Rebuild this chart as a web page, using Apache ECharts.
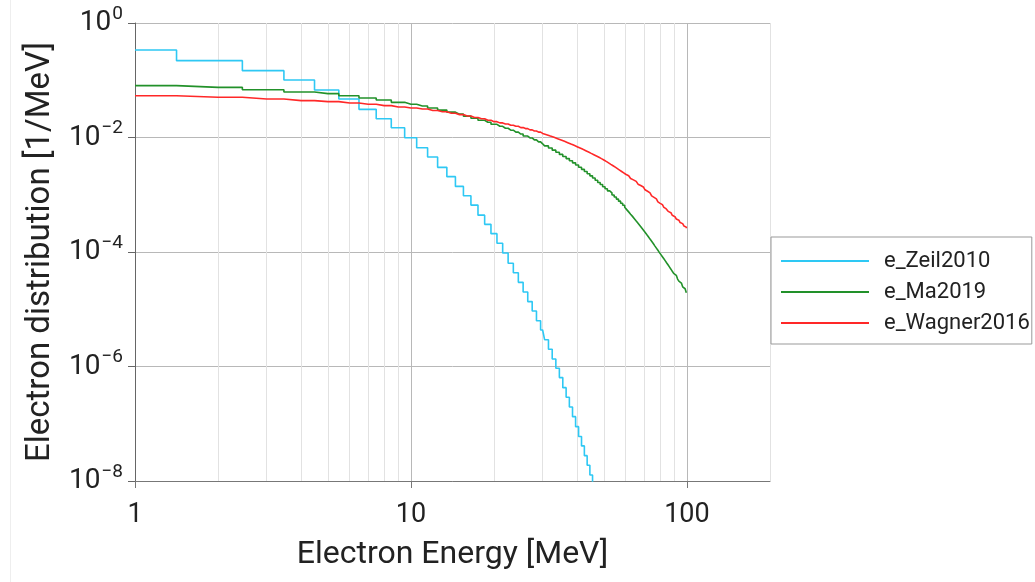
<!DOCTYPE html>
<html><head><meta charset="utf-8">
<script src="https://cdn.jsdelivr.net/npm/echarts@6/dist/echarts.min.js"></script>
<style>html,body{margin:0;padding:0;background:#fff}#c{width:1035px;height:582px}</style>
</head><body><div id="c"></div>
<script>
const energyMeV = [1,2,3,4,5,6,7,8,9,10,11,12,13,14,15,16,17,18,19,20,21,22,23,24,25,26,27,28,29,30,31,32,33,34,35,36,37,38,39,40,41,42,43,44,45,46,47,48,49,50,51,52,53,54,55,56,57,58,59,60,61,62,63,64,65,66,67,68,69,70,71,72,73,74,75,76,77,78,79,80,81,82,83,84,85,86,87,88,89,90,91,92,93,94,95,96,97,98,99,100];
const zeil2010 = [0.337,0.22,0.147,0.101,0.0676,0.047,0.031,0.0213,0.0148,0.0099,0.00664,0.00456,0.00301,0.00207,0.0014,9.6e-4,6.6e-4,4.4e-4,3.04e-4,2.09e-4,1.42e-4,9.6e-5,6.35e-5,4.35e-5,2.95e-5,2.0e-5,1.36e-5,9.3e-6,6.3e-6,4.34e-6,2.94e-6,2.0e-6,1.35e-6,9.3e-7,6.4e-7,4.27e-7,2.9e-7,1.96e-7,1.33e-7,8.9e-8,6.0e-8,4.1e-8,2.77e-8,1.88e-8,1.27e-8,8.6e-9];
const ma2019 = [0.0804,0.0752,0.0684,0.0624,0.0583,0.0537,0.0490,0.0452,0.0411,0.0380,0.0355,0.0327,0.0301,0.0277,0.0256,0.0236,0.0217,0.0200,0.0185,0.0170,0.0157,0.0145,0.0134,0.0124,0.0115,0.0106,0.00982,0.00908,0.00839,0.00776,0.00713,0.00655,0.00601,0.00552,0.00507,0.00466,0.00428,0.00393,0.00361,0.00331,0.00303,0.00278,0.00255,0.00233,0.00214,0.00196,0.00179,0.00164,0.00151,0.00138,0.00127,0.00117,0.00108,9.91e-4,9.12e-4,8.39e-4,7.73e-4,7.11e-4,6.55e-4,6.03e-4,5.50e-4,5.02e-4,4.58e-4,4.19e-4,3.82e-4,3.48e-4,3.18e-4,2.90e-4,2.65e-4,2.42e-4,2.21e-4,2.02e-4,1.85e-4,1.68e-4,1.54e-4,1.41e-4,1.28e-4,1.17e-4,1.07e-4,9.77e-5,8.99e-5,8.26e-5,7.60e-5,7.00e-5,6.43e-5,5.92e-5,5.44e-5,5.01e-5,4.60e-5,4.24e-5,3.92e-5,3.63e-5,3.36e-5,3.10e-5,2.87e-5,2.66e-5,2.46e-5,2.28e-5,2.11e-5,1.95e-5];
const wagner2016 = [0.0537,0.0504,0.0470,0.0440,0.0423,0.0401,0.0380,0.0360,0.0341,0.0327,0.0315,0.0297,0.0281,0.0265,0.0251,0.0237,0.0224,0.0212,0.0200,0.0189,0.0180,0.0172,0.0164,0.0157,0.0149,0.0143,0.0136,0.0130,0.0124,0.0118,0.0112,0.0106,0.0101,0.00955,0.00904,0.00857,0.00813,0.00769,0.00729,0.00692,0.00656,0.00621,0.00589,0.00558,0.00528,0.00501,0.00475,0.00451,0.00427,0.00405,0.00382,0.00361,0.00340,0.00321,0.00303,0.00286,0.00270,0.00255,0.00241,0.00228,0.00215,0.00203,0.00192,0.00182,0.00171,0.00162,0.00153,0.00145,0.00137,0.00129,0.00122,0.00115,0.00108,0.00102,9.57e-4,9.02e-4,8.49e-4,7.98e-4,7.52e-4,7.08e-4,6.71e-4,6.35e-4,6.03e-4,5.71e-4,5.41e-4,5.13e-4,4.86e-4,4.61e-4,4.37e-4,4.14e-4,3.95e-4,3.77e-4,3.60e-4,3.44e-4,3.27e-4,3.13e-4,2.99e-4,2.85e-4,2.72e-4,2.59e-4];
const seriesNames = ['e_Zeil2010', 'e_Ma2019', 'e_Wagner2016'];
const seriesColors = ['#2ec8f4', '#22912a', '#ff2828'];
const xTickValues = [1, 10, 100];
const xMajorGrid = [10, 100];
const xMinorGrid = [2,3,4,5,6,7,8,9,20,30,40,50,60,70,80,90,200];
const xTitle = 'Electron Energy [MeV]';
const yTitle = 'Electron distribution [1/MeV]';

function pairs(xs, ys) { return ys.map((y, i) => [xs[i], y]); }
const FONT = 'Roboto';
const chart = echarts.init(document.getElementById('c'), null, {renderer: 'canvas'});

const gridLines = [];
xMinorGrid.forEach(v => gridLines.push({xAxis: v, lineStyle: {color: '#e2e2e2', width: 1, type: 'solid'}}));
xMajorGrid.forEach(v => gridLines.push({xAxis: v, lineStyle: {color: '#b8b8b8', width: 1, type: 'solid'}}));

const mainSeries = [zeil2010, ma2019, wagner2016].map((d, i) => ({
  name: seriesNames[i], type: 'line', step: 'middle', symbol: 'none', showSymbol: false,
  data: pairs(energyMeV, d), z: 10, clip: true,
  lineStyle: {color: seriesColors[i], width: 1.6}, itemStyle: {color: seriesColors[i]},
  emphasis: {disabled: true}, animation: false
}));

chart.setOption({
  animation: false,
  backgroundColor: '#ffffff',
  textStyle: {fontFamily: FONT},
  graphic: [{type: 'line', shape: {x1: 10.5, y1: 0, x2: 10.5, y2: 582}, style: {stroke: '#eeeeee', lineWidth: 1}, silent: true}],
  grid: {left: 135, right: 265, top: 23, bottom: 101, containLabel: false},
  legend: {
    orient: 'vertical', left: 771, top: 237, padding: [11, 2, 8, 10],
    icon: 'rect', itemWidth: 88, itemHeight: 2, itemGap: 5,
    borderColor: '#999', borderWidth: 1, backgroundColor: '#fff',
    textStyle: {fontSize: 22, color: '#222', fontFamily: FONT, lineHeight: 26, padding: [0, 0, 0, 10]},
    data: seriesNames
  },
  xAxis: {
    type: 'log', logBase: 10, min: 1, max: 200,
    name: xTitle, nameLocation: 'middle', nameGap: 58,
    nameTextStyle: {fontSize: 32, color: '#222', fontFamily: FONT},
    axisLine: {show: true, lineStyle: {color: '#777', width: 1}},
    axisTick: {show: true, customValues: xTickValues, length: 7, lineStyle: {color: '#777'}},
    axisLabel: {customValues: xTickValues, fontSize: 27, color: '#222', fontFamily: FONT, margin: 21,
      formatter: v => { const l = Math.log10(v); return Math.abs(l - Math.round(l)) < 1e-6 ? String(Math.round(v)) : ''; }},
    splitLine: {show: false}, minorTick: {show: false}, minorSplitLine: {show: false}
  },
  yAxis: {
    type: 'log', logBase: 10, min: 1e-8, max: 1, interval: 2,
    name: yTitle, nameLocation: 'middle', nameGap: 78,
    nameTextStyle: {fontSize: 33, color: '#222', fontFamily: FONT},
    axisLine: {show: true, lineStyle: {color: '#666', width: 1}},
    axisTick: {show: true, length: 7, lineStyle: {color: '#666'}},
    axisLabel: {
      margin: 12, color: '#222', fontFamily: FONT,
      formatter: v => { const e = Math.round(Math.log10(v)); return '{b|10}{s|' + (e < 0 ? '\u2212' + (-e) : e) + '}'; },
      rich: {
        b: {fontSize: 28, color: '#222', fontFamily: FONT},
        s: {fontSize: 19, color: '#222', fontFamily: FONT, padding: [0, 0, 18, 1]}
      }
    },
    splitLine: {show: true, lineStyle: {color: '#b8b8b8', width: 1}}
  },
  series: [{
    name: '_grid', type: 'line', data: [], z: 1, silent: true,
    markLine: {silent: true, symbol: ['none', 'none'], label: {show: false}, animation: false, z: 1, data: gridLines}
  }].concat(mainSeries)
});
</script>
</body></html>
